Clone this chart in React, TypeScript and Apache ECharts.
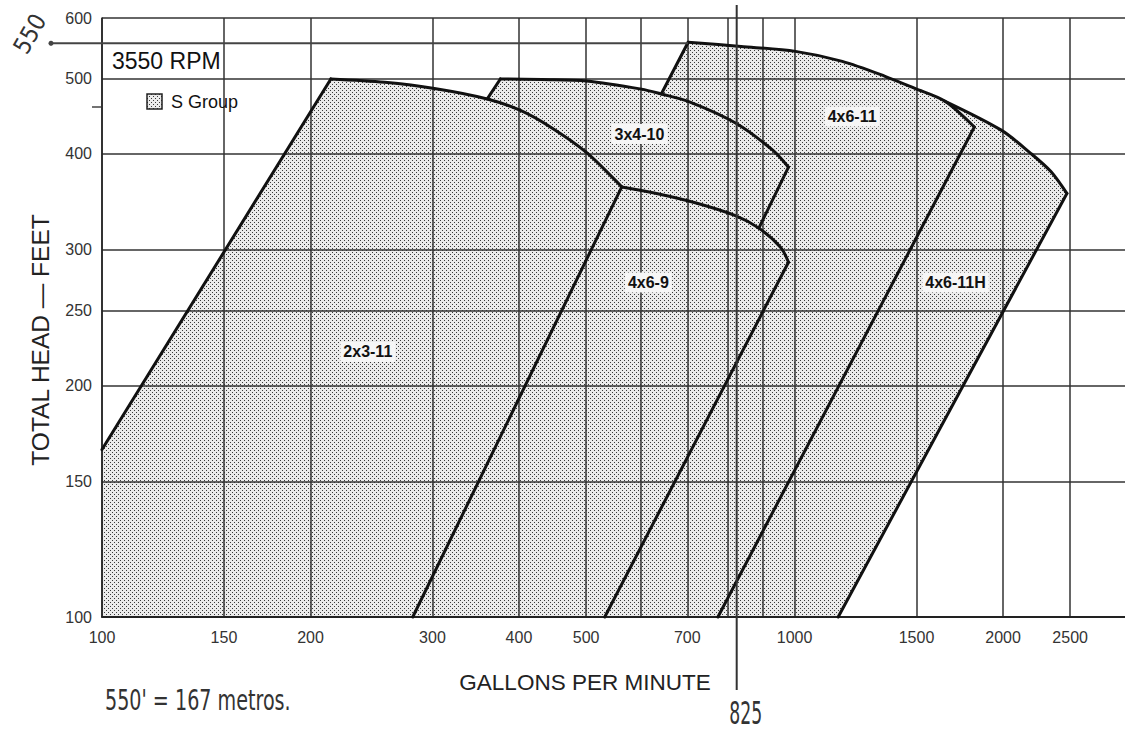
import React, { useEffect, useRef } from "react";
import * as echarts from "echarts";

type Pt = [number, number];

// ---- axes ----
const xGridValues = [100, 150, 200, 300, 400, 500, 600, 700, 800, 900, 1000, 1500, 2000, 2500];
const xLabelValues = [100, 150, 200, 300, 400, 500, 700, 1000, 1500, 2000, 2500];
const yGridValues = [100, 150, 200, 250, 300, 400, 500, 600];
const yLabelValues = [100, 150, 200, 250, 300, 400, 500, 600];

// ---- pump ranges (gallons per minute, total head in feet) ----
const pumpNames = ["2x3-11", "3x4-10", "4x6-9", "4x6-11", "4x6-11H"];

// top (impeller) curve of each range
const curve2x3_11: Pt[] = [[214, 500], [256, 495], [302, 486], [360, 471], [402, 455], [444, 433], [501, 401], [563, 362]];
const curve3x4_10: Pt[] = [[376, 500], [432, 499], [501, 497], [601, 485], [642, 478], [705, 467], [823, 438], [930, 404], [980, 384]];
const curve4x6_9: Pt[] = [[563, 362], [632, 355], [721, 345], [823, 332], [888, 320], [955, 302], [980, 289]];
const curve4x6_11: Pt[] = [[702, 558], [837, 551], [1003, 543], [1172, 527], [1351, 504], [1492, 486], [1647, 468], [1818, 433]];
const curve4x6_11H: Pt[] = [[1647, 468], [1988, 429], [2195, 400], [2345, 379], [2473, 355]];
const pumpCurves: Pt[][] = [curve2x3_11, curve3x4_10, curve4x6_9, curve4x6_11, curve4x6_11H];

// visible ends of the straight side edges (null = edge hidden / shared)
const leftEdgeFoot: (Pt | null)[] = [[100, 165], [360, 471], null, [642, 478], null];
const rightEdgeFoot: Pt[] = [[281, 100], [888, 320], [532, 100], [775, 100], [1156, 100]];

// where each range name is written
const pumpLabelAt: Pt[] = [[242, 221], [597, 424], [615, 272], [1211, 447], [1708, 272]];

// hand-written notes
const noteHead = "550";
const noteFlow = 825; // gpm
const noteMetric = "550' = 167 metros.";

const samePt = (a: Pt, b: Pt) => a[0] === b[0] && a[1] === b[1];
const upTo = (c: Pt[], p: Pt) => c.slice(0, c.findIndex((q) => samePt(q, p)) + 1);

// outline of the whole shaded "S Group" area, assembled from the ranges
const shadedArea: Pt[] = [
  leftEdgeFoot[0] as Pt,
  ...upTo(curve2x3_11, leftEdgeFoot[1] as Pt),
  ...upTo(curve3x4_10, leftEdgeFoot[3] as Pt),
  ...upTo(curve4x6_11, curve4x6_11H[0]),
  ...curve4x6_11H.slice(1),
  rightEdgeFoot[4],
  [100, 100],
];

function makeStipple() {
  const c = document.createElement("canvas");
  c.width = 4;
  c.height = 4;
  const g = c.getContext("2d")!;
  g.fillStyle = "#ebebeb";
  g.fillRect(0, 0, 4, 4);
  g.fillStyle = "#3a3a3a";
  g.fillRect(0, 0, 1, 1);
  g.fillRect(2, 2, 1, 1);
  return c;
}

const FONT = '"Liberation Sans", Arial, Helvetica, sans-serif';
const HAND = '"DejaVu Sans Condensed", "DejaVu Sans", sans-serif';

export default function App() {
  const ref = useRef<HTMLDivElement>(null);

  useEffect(() => {
    const el = ref.current!;
    const chart = echarts.init(el, undefined, { renderer: "svg" });
    const stipple = makeStipple();
    const pattern: any = { image: stipple, repeat: "repeat", imageWidth: 4, imageHeight: 4 };

    const lineStyle = { stroke: "#111", lineWidth: 3, fill: "none", lineCap: "round", lineJoin: "round" };

    const option: any = {
      animation: false,
      backgroundColor: "#fff",
      textStyle: { fontFamily: FONT },
      grid: { left: 102, top: 18, right: -6.5, bottom: 117, containLabel: false },
      xAxis: {
        type: "log",
        logBase: 10,
        min: 100,
        max: 3000,
        z: 3,
        axisLine: { show: true, lineStyle: { color: "#222", width: 2 } },
        axisTick: { show: false, customValues: xGridValues },
        axisLabel: {
          customValues: xLabelValues,
          color: "#333",
          fontSize: 16,
          fontFamily: FONT,
          margin: 12,
          formatter: (v: number) => String(Math.round(v)),
        },
        splitLine: { show: true, lineStyle: { color: "#333", width: 1.5 } },
      },
      yAxis: {
        type: "log",
        logBase: 10,
        min: 100,
        max: 600,
        z: 3,
        axisLine: { show: true, lineStyle: { color: "#222", width: 1.5 } },
        axisTick: { show: false, customValues: yGridValues },
        axisLabel: {
          customValues: yLabelValues,
          color: "#333",
          fontSize: 16,
          fontFamily: FONT,
          margin: 10,
          formatter: (v: number) => String(Math.round(v)),
        },
        splitLine: { show: true, lineStyle: { color: "#333", width: 1.5 } },
      },
      series: [
        {
          type: "custom",
          name: "S Group",
          coordinateSystem: "cartesian2d",
          z: 1,
          silent: true,
          data: [shadedArea[0]],
          renderItem: (_p: any, api: any) => ({
            type: "polygon",
            shape: { points: shadedArea.map((p) => api.coord(p)) },
            style: { fill: pattern, stroke: "none" },
          }),
        },
        {
          type: "custom",
          name: "outlines",
          coordinateSystem: "cartesian2d",
          z: 5,
          silent: true,
          data: pumpCurves.map((c) => c[0]),
          renderItem: (params: any, api: any) => {
            const i = params.dataIndex;
            const curve = pumpCurves[i];
            const children: any[] = [];
            const lf = leftEdgeFoot[i];
            if (lf) {
              children.push({ type: "polyline", shape: { points: [api.coord(lf), api.coord(curve[0])] }, style: lineStyle });
            }
            children.push({
              type: "polyline",
              shape: { points: curve.map((p) => api.coord(p)), smooth: 0.3 },
              style: lineStyle,
            });
            children.push({
              type: "polyline",
              shape: { points: [api.coord(curve[curve.length - 1]), api.coord(rightEdgeFoot[i])] },
              style: lineStyle,
            });
            return { type: "group", children };
          },
        },
        {
          type: "custom",
          name: "pump labels",
          coordinateSystem: "cartesian2d",
          z: 6,
          silent: true,
          data: pumpLabelAt,
          renderItem: (params: any, api: any) => {
            const p = api.coord([api.value(0), api.value(1)]);
            return {
              type: "text",
              x: p[0],
              y: p[1],
              style: {
                text: pumpNames[params.dataIndex],
                align: "center",
                verticalAlign: "middle",
                fontSize: 16,
                fontWeight: "bold",
                fontFamily: FONT,
                fill: "#111",
                backgroundColor: "#f6f6f6",
                padding: [2, 3],
              },
            };
          },
        },
      ],
    };

    chart.setOption(option);

    const xNote = chart.convertToPixel({ xAxisIndex: 0 } as any, noteFlow) as number;
    const topCorner = chart.convertToPixel({ gridIndex: 0 } as any, curve4x6_11[0]) as number[];

    chart.setOption({
      graphic: [
        // titles
        { type: "text", x: 112, y: 61, z: 10, style: { text: "3550 RPM", fontSize: 23, fontFamily: FONT, fill: "#111", align: "left", verticalAlign: "middle" } },
        { type: "rect", x: 147, y: 94, z: 10, shape: { width: 15, height: 15 }, style: { fill: pattern, stroke: "#222", lineWidth: 1.5 } },
        { type: "text", x: 171, y: 102, z: 10, style: { text: "S Group", fontSize: 18, fontFamily: FONT, fill: "#111", align: "left", verticalAlign: "middle" } },
        { type: "text", x: 585, y: 682, z: 10, style: { text: "GALLONS PER MINUTE", fontSize: 22.5, fontFamily: FONT, fill: "#222", align: "center", verticalAlign: "middle" } },
        { type: "text", x: 40, y: 340, rotation: Math.PI / 2, z: 10, style: { text: "TOTAL HEAD — FEET", fontSize: 24.5, fontFamily: FONT, fill: "#222", align: "center", verticalAlign: "middle" } },
        // hand-written notes
        { type: "line", z: 9, shape: { x1: 50, y1: topCorner[1] + 1, x2: topCorner[0], y2: topCorner[1] + 1 }, style: { stroke: "#444", lineWidth: 2 } },
        { type: "circle", z: 9, shape: { cx: 51, cy: topCorner[1] + 1, r: 2.5 }, style: { fill: "#444" } },
        { type: "line", z: 9, shape: { x1: 92, y1: 107, x2: 101, y2: 107 }, style: { stroke: "#444", lineWidth: 1.5 } },
        { type: "text", x: 30, y: 34, rotation: Math.PI / 3, z: 10, style: { text: noteHead, fontSize: 24, fontFamily: HAND, fill: "#333", align: "center", verticalAlign: "middle" } },
        { type: "line", z: 9, shape: { x1: xNote, y1: 5, x2: xNote, y2: 690 }, style: { stroke: "#333", lineWidth: 2 } },
        { type: "text", x: xNote + 9, y: 713, scaleX: 0.6, z: 10, style: { text: String(noteFlow), fontSize: 32, fontFamily: HAND, fill: "#333", align: "center", verticalAlign: "middle" } },
        { type: "text", x: 105, y: 700, scaleX: 0.76, z: 10, style: { text: noteMetric, fontSize: 28, fontFamily: HAND, fill: "#333", align: "left", verticalAlign: "middle" } },
      ],
    });

    return () => chart.dispose();
  }, []);

  return <div ref={ref} style={{ position: "absolute", left: 0, top: 0, width: 1125, height: 734, background: "#fff" }} />;
}
